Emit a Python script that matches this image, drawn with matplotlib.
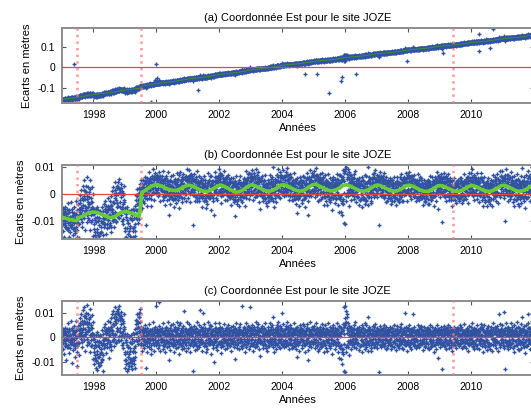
import numpy as np
import matplotlib.pyplot as plt

plt.rcParams['font.family'] = ['Liberation Sans', 'DejaVu Sans']
plt.rcParams['font.size'] = 8

# ------------------------------------------------------------------
# Data
# ------------------------------------------------------------------
start_year = 1997

# residuals of panel (c), units of 0.1 mm, one row per year, spread evenly
# over the year (wide scatter)
resid_01mm = [
    [-12, 35, -48, 8, -70, 22, 41, -25, -5, -92, 15, -38, 3, 58, -31, -64, 27, -9,
     -44, 12, 66, -18, -105, 30, 19, -52, -3, 47, -27, -80, -36, 25, 70, -60, 4, -118,
     48, -22, 10, -75, 33, 82, 61, -8, 95, 24, -40, 112, 37, 128, 4, 70, -55, 88,
     102, 15, 54, -30, 135, 44, -18, 76, 31, 118, -62, 9, 50, -35, 92, 12, -88, 65],
    [-45, -110, 8, -72, -20, -128, -96, 22, -58, -135, -30, -80, -120, -15, -70, 10, -102, -48,
     -62, 30, -90, -25, -138, -5, -30, 42, -8, 55, -66, 18, 25, -40, 68, -12, 36, -84,
     10, 62, -28, 80, -52, 44, 95, 28, -15, 110, 52, -35, 66, 125, 8, 84, -22, 102,
     40, 118, 74, -10, 92, 130, 88, 22, 105, 56, -30, 78, 12, 70, -45, 96, 35, -60],
    [-70, -125, -18, -92, 15, -140, -105, -40, -132, -68, 5, -88, -55, -118, -22, -96, -130, -8,
     -84, 20, -110, -45, -128, -62, 35, -10, 72, 18, 95, -28, 60, 102, 25, 84, 40, 118,
     -32, 45, -8, 20, -58, 12, 38, -45, 5, -20, 52, -125, -15, 28, -62, 40, -5, 15,
     22, -38, 55, -12, 30, -70, -48, 10, 35, -25, 62, -8, 18, -55, 0, 44, -30, 25],
    [130, -20, 35, -42, 8, 145, -30, 48, 12, -58, 25, -8, 40, -15, -48, 20, 58, -35,
     -10, 32, -62, 5, 45, -25, 28, -40, 15, 62, -18, -95, -52, 10, 38, -22, 50, 0,
     15, -35, 55, -10, -60, 30, -28, 42, 8, -45, 20, 65, 35, -12, -38, 52, -68, 12,
     -5, 60, 25, -30, 40, -50, 48, -22, 110, 5, -42, 28, -18, 35, -55, 20, 62, -8],
    [22, -45, 10, 55, -28, 38, -60, 18, 42, -12, 30, -35, -140, 25, -20, 48, -5, -52,
     35, -30, 62, 8, -48, 20, -15, 50, -40, 28, 112, -22, 45, -8, 25, -58, 15, 100,
     -35, 20, 55, -25, 40, -62, 10, -48, 30, 65, -18, 5, -28, 38, -10, 52, -70, 22,
     48, -20, 15, -42, 30, -5, -100, 25, 58, -15, 40, -38, 12, -52, 35, 20, -28, 60],
    [30, -18, 45, -40, 8, -65, -22, 40, 12, -35, 55, 2, 18, -48, 28, -10, 38, -30,
     -42, 15, 50, -25, 5, 35, 25, -8, -55, 42, -20, 10, -12, 48, 20, -38, 30, -90,
     40, -28, 5, 58, -45, 22, -5, 32, -50, 15, 45, -20, 55, -15, 28, -42, 10, 130,
     -30, 20, 42, -8, -60, 35, 10, -38, 60, 25, -18, 48, -25, 45, 5, -48, 32, 125],
    [38, -10, 52, -32, 20, -55, -28, 45, 8, -40, 30, 62, 15, -35, 42, -18, 55, -5,
     -50, 22, 35, -12, -78, 28, 30, -25, 48, 5, -42, 18, -8, 40, -30, 58, 12, -45,
     25, -55, 18, 42, -20, 8, -35, 30, 60, -15, 45, -28, 50, -5, -40, 22, 85, -62,
     -18, 35, 10, -48, 28, 52, 42, -30, 20, 65, -12, -38, -45, 15, 48, -22, 38, 5],
    [100, 25, -30, 55, 8, -40, 35, -15, 48, -35, 20, 62, -20, 42, 5, -50, 30, -8,
     52, -28, 18, 40, -45, 12, -38, 22, -12, 58, -25, 35, 15, -48, 38, -5, 45, -82,
     -30, 28, -55, 10, 50, -18, 40, -8, 22, -42, 15, 55, -15, 48, -32, 25, -60, 8,
     30, -22, 55, -10, 38, -95, -52, 12, 35, -28, 62, 20, 18, -40, 8, 45, -18, 32],
    [48, -20, 30, -45, 15, 58, -10, 38, -35, 22, -58, 5, 32, -50, 12, 45, -22, 28,
     -40, 18, 55, -15, 35, -62, 22, -30, 8, 50, -45, 15, -55, 35, -12, 28, 60, -25,
     10, -42, 45, -8, 25, -70, 38, 5, -28, 52, -15, 20, -48, 25, 40, -32, 10, 58,
     15, -60, 30, -20, 48, -85, -35, 42, -90, 18, -50, 28, -110, 55, -70, 125, -138, 80],
    [132, -145, 110, -60, 95, 40, 60, -38, 25, -75, 48, 12, -25, 42, -50, 18, 30, -12,
     35, -18, 52, -40, 8, 62, -45, 20, -8, 38, -28, 15, 28, -52, 45, 5, -35, 22,
     -12, 35, -60, 50, 12, -30, 40, -25, 18, -48, 58, 2, -38, 52, -15, 28, -55, 85,
     20, -30, 42, -10, 35, -45, -58, 15, 30, -22, 48, -8, 45, -40, 10, 55, -18, 25],
    [-20, 38, -45, 12, 30, -8, -145, 25, -30, 48, 5, -38, 32, -12, 40, -28, 15, 52,
     -35, 20, -5, 42, -50, 10, 18, -42, 35, -15, 28, -22, -8, 45, -30, 22, -48, 38,
     40, -18, 12, -38, 50, 5, -25, 30, -52, 15, 35, -10, 48, -35, 20, -5, -42, 28,
     -15, 42, -28, 55, 8, -45, 25, -50, 38, -12, 20, 100, -30, 15, 45, -22, 32, -55],
    [38, -28, 15, 50, -40, 10, -12, 35, -48, 22, 5, 95, 28, -20, 42, -35, 18, -8,
     -45, 12, 30, -15, 52, -30, 20, -38, 8, 45, -22, 35, -28, 48, -10, 25, -52, 15,
     42, -5, -40, 30, 12, -25, -18, 38, 22, -45, 40, 5, 30, -50, 15, 52, -12, -35,
     -40, 18, 45, -20, 28, -60, 12, -32, 38, 8, -48, 25, -22, 50, -8, 35, -85, 15],
    [28, -40, 18, -12, 42, -28, -130, 20, 35, -22, 10, 48, -35, 15, -8, 40, -50, 22,
     38, -25, 52, -10, 28, -42, -15, 42, -38, 12, -58, 30, 22, -30, 8, 45, -20, 15,
     -5, 35, -42, 20, 38, -12, 40, -22, 15, -35, 5, 50, -28, 10, 45, -18, 30, -45,
     18, -38, 28, 55, -8, -25, -42, 25, -12, 38, 15, -55, 30, -8, 48, -30, 22, 5],
    [45, -25, 12, 60, -38, 20, -18, 40, -50, 28, 8, -30, 35, -12, 52, -42, 18, 5,
     -48, 22, -5, 38, -28, 55, 12, -35, 42, -15, 30, -60, -22, 50, 5, -40, 25, 10,
     38, -10, -52, 18, 48, -28, -35, 28, 15, -48, 5, 42, 20, -55, 35, -8, 58, -18,
     -12, 45, -30, 22, -42, 12, 48, -20, 30, -58, 15, 95, -40, 10, 55, -25, 35, -5],
    [52, -30, 18, 105, -45, 25, -130, 40, -15, 60, -35, 8, 28, -50, 45, -10, 32, -22,
     -38, 15, 58, -28, 5, 42, 20, -45, 10, 50, -60, 30, -15, 38, -32, 62, 12, -48,
     45, -8, 25, -52, 35, -20, -42, 55, -18, 30, 85, 2, 35, -25, 48, -40, 18, -65,
     -10, 50, -35, 22, 95, -28, 58, -15, 40, -50, 10, 30, -28, 42, 5, 68, -38, 20],
]

# residuals of panel (c), core of the cloud, 0.1 mm, one row per year
resid_core_01mm = [
    [5, -22, 30, -8, 18, -35, -15, 26, -30, 10, -5, 33,
     22, -12, -40, 6, 35, -20, 12, -28, 3, 40, -18, -6,
     -30, 15, 28, -10, 8, -45, 26, -4, -22, 38, -35, 10,
     -18, 30, 5, -25, 20, 52, 10, 35, 68, -20, 30, 5,
     55, -10, 90, 15, 35, 60, 80, 22, -5, 65, 25, 98,
     30, 58, -25, 85, 10, 40, -12, 20, 38, -30, 15, -8],
    [-60, -5, -85, -30, 10, -95, -35, -70, -15, -105, 8, -20,
     -80, -40, -115, 5, -65, -25, -30, -92, -10, 15, -75, -45,
     -12, 25, -30, 15, -5, 35, 18, -25, 40, -10, 28, -38,
     -20, 32, 8, -35, 45, 20, 30, -10, 55, 12, 85, -5,
     95, 15, 75, -20, 60, 110, 25, 30, 100, -15, 5, 80,
     40, 72, -10, 90, 20, 5, 28, 60, -25, 45, 0, 15],
    [-95, -10, -110, -30, 5, -60, -80, -40, -120, 0, -20, -100,
     -45, -90, 10, -25, -105, -55, -60, -15, -95, 15, -80, -35,
     20, 55, -15, 40, 70, 0, 45, 85, -10, 65, 100, 20,
     10, -25, 30, -8, 18, -30, -15, 25, -5, 35, -28, 12,
     22, -18, 8, -35, 28, -2, -25, 15, 32, -12, 5, -30,
     15, -8, 28, -22, 10, 35, -30, 20, -12, 25, 5, -18],
    [18, -25, 5, 30, -12, 22, -30, 10, 35, -18, 2, -8,
     25, -5, -32, 15, 28, -20, 8, -28, 20, 38, -10, 12,
     -15, 30, -22, 5, -35, 18, 32, -8, 15, -25, 10, 28,
     -28, 12, -5, 35, -18, 25, 5, -32, 22, -10, 30, -20,
     12, 38, -15, -28, 8, 20, -22, 5, 32, -12, 18, -35,
     28, -18, 10, -5, 35, -25, -10, 22, -30, 15, 2, 30],
    [-20, 15, 32, -8, 25, -30, 10, -22, 5, 35, -15, 20,
     30, -12, -28, 18, 2, 38, -25, 22, 10, -35, 28, -5,
     15, -32, 25, 8, -18, 35, -10, 28, -25, 12, 40, -20,
     22, 5, -30, 30, -12, 15, -35, 18, 8, -22, 32, -2,
     -8, 35, 20, -28, 12, -15, 30, -20, 5, 25, -32, 10,
     -25, 10, 38, -15, 22, -5, 18, -30, 28, 2, -18, 35],
    [10, -28, 22, 35, -15, 5, -32, 18, -8, 28, -20, 12,
     -12, 30, -25, 8, 38, -18, 25, -5, 15, -30, 20, -35,
     32, -10, 5, -22, 28, 12, -28, 22, -15, 35, -2, 18,
     -18, 8, 30, -12, 20, -32, 15, -25, 35, 10, -8, 28,
     25, -35, -5, 18, -20, 32, 8, 38, -28, 12, 22, -15,
     -30, 20, 12, -8, 35, -22, 28, -12, 5, -35, 18, 30],
    [-22, 12, 30, -5, 20, -30, 35, -18, 8, 25, -12, -28,
     15, -35, 22, 10, -20, 32, -8, 28, -25, 5, 38, -15,
     30, 5, -22, 18, -32, 12, -15, 35, 20, -28, 10, 25,
     -10, 22, -35, 30, 8, -18, 28, -5, 15, -25, 32, -12,
     18, -28, 12, 35, -15, 2, -32, 20, -8, 30, -22, 10,
     22, -12, 35, -25, 5, 18, -20, 32, 12, -5, -30, 28],
    [25, -15, 8, 32, -28, 18, -10, 30, -22, 5, 38, -18,
     -32, 20, 12, -8, 28, -25, 35, -12, 2, 22, -30, 15,
     10, 35, -20, 25, -5, -35, 18, -28, 30, 8, -15, 22,
     -25, 12, 28, -18, 35, 5, -8, 20, -32, 15, 30, -12,
     32, -22, 5, 18, -30, 25, 15, -10, 38, -25, 8, -2,
     -18, 28, -35, 10, 22, -15, 30, 5, -20, 35, -28, 12],
    [-5, 30, -25, 15, 35, -12, 22, -30, 8, 28, -18, 2,
     18, -8, 32, -28, 12, 25, -35, 10, -15, 38, 20, -22,
     -28, 22, 5, 35, -12, 18, 30, -20, 15, -5, -32, 28,
     12, -35, 25, 8, -22, 32, -10, 18, 38, -28, 5, 22,
     -20, 10, -30, 28, 15, -8, 35, -25, 12, 20, -35, 5,
     -45, 18, 40, -30, 25, -60, 30, -50, 15, 45, -28, 60],
    [50, -40, 65, 20, -30, 85, -15, 30, -25, 8, 38, -12,
     28, -20, 12, -32, 22, 5, -8, 35, -28, 18, 2, -18,
     32, -10, -25, 20, 10, 35, -22, 15, 28, -35, 8, 25,
     -30, 5, 22, -12, 38, -20, 18, -28, 10, 30, -5, -32,
     25, 12, -18, 35, -25, 8, 2, 28, -15, 20, -30, 12,
     -12, 32, -22, 18, 5, -28, 30, -8, 25, -35, 15, 10],
    [15, -28, 28, -5, -18, 32, 22, -12, 8, -30, 35, 18,
     -20, 30, -10, 12, -35, 25, 5, -25, 32, 18, -8, -15,
     28, 8, -30, 22, 12, -20, -12, 35, 2, -28, 20, 10,
     -35, 18, 28, -15, 5, 25, 30, -22, -8, 12, -30, 35,
     8, 22, -15, -32, 28, 2, -25, 12, 35, -18, 20, -10,
     20, -5, -28, 32, -15, 15, 12, -32, 25, 5, -20, 30],
    [-12, 25, -30, 8, 32, -18, 18, -25, 12, 35, -8, -28,
     30, 2, -20, 25, -32, 15, -5, 28, -15, -35, 20, 10,
     22, -30, 35, -10, 12, -22, 15, 30, -28, 5, -18, 25,
     -25, 12, 20, -35, 28, -5, -18, 32, 8, 15, -28, 22,
     35, -15, -8, 25, -22, 10, 20, -32, 28, -12, 5, 30,
     -30, 8, 18, -20, 32, -10, -5, 22, -28, 12, 35, -18],
    [20, -8, -25, 32, 10, -30, 25, -18, 5, 28, -35, 15,
     -15, 35, 22, -10, -28, 8, -22, 12, 30, -32, 18, 2,
     28, -12, 8, -25, 35, -18, 10, -30, 22, 15, -5, 25,
     -32, 20, -15, 28, 2, -22, 18, 32, -28, 8, -12, 30,
     5, -25, 35, -8, 20, -15, -20, 28, 12, -35, 25, 8,
     15, 30, -18, 5, -28, 22, 32, -10, 8, -22, 28, -2],
    [-28, 15, 30, -12, 22, -35, 8, -20, 35, 12, -28, 20,
     25, -5, -30, 18, 10, 32, -15, 28, -22, 5, 38, -12,
     -8, 35, 12, -25, 30, -15, 22, -32, 5, 18, -10, 28,
     30, -18, 25, 8, -35, 15, -22, 10, 32, -28, 18, -5,
     12, 25, -30, 35, -12, 20, 28, -8, -25, 15, 38, -20,
     -15, 30, 8, -22, 25, 12, -32, 18, 35, -10, 5, 22],
    [32, -20, 10, 25, -35, 15, -12, 30, -25, 8, 38, -18,
     18, -30, 28, 5, -15, 35, -28, 12, 22, -8, 30, -22,
     -10, 25, -35, 18, 8, 32, 28, -15, 12, -30, 20, 5,
     -22, 38, 15, -12, 28, -28, 10, 20, -18, 35, -5, 25,
     -30, 12, 32, -20, 18, 8, 25, -35, 5, 28, -12, 40,
     15, -8, 35, -25, 22, 10, -18, 30, 12, -32, 42, -10],
]

# fitted model of panel (b), units of 0.1 mm, monthly
model_b_01mm = [
    [-86, -89, -92, -94, -96, -97, -86, -82, -77, -72, -68, -66],
    [-66, -68, -72, -76, -80, -84, -86, -85, -80, -74, -68, -65],
    [-64, -66, -70, -74, -77, -80, 6, 12, 18, 25, 30, 34],
    [34, 31, 26, 22, 18, 15, 13, 13, 16, 21, 26, 31],
    [32, 30, 26, 21, 16, 12, 10, 10, 13, 18, 24, 30],
    [33, 30, 25, 20, 15, 10, 7, 8, 12, 18, 25, 31],
    [34, 31, 27, 22, 17, 13, 11, 11, 14, 19, 26, 32],
    [34, 32, 27, 22, 17, 13, 11, 11, 14, 20, 27, 33],
    [36, 33, 28, 23, 18, 14, 12, 12, 15, 20, 26, 32],
    [34, 31, 27, 22, 17, 13, 11, 11, 14, 19, 25, 31],
    [33, 31, 26, 21, 17, 13, 11, 11, 14, 19, 25, 31],
    [32, 30, 26, 21, 16, 12, 10, 10, 13, 18, 24, 30],
    [31, 29, 25, 20, 16, 12, 10, 10, 13, 18, 24, 29],
    [31, 29, 25, 20, 15, 12, 10, 10, 13, 18, 24, 30],
    [32, 30, 26, 21, 16, 12, 10, 11, 14, 19, 26, 32],
]

# trend of panel (a) (metres)
trend_years = [1997, 2000, 2004, 2008, 2012]
trend_vals = [-0.145, -0.081, 0.007, 0.081, 0.153]
linfit_vals = [-0.158, -0.088, 0.002, 0.076, 0.148]

# outliers visible only in panel (a)
outlier_years = [1997.38, 1999.81, 1999.97, 2000.02, 2000.0, 1999.83, 2001.33, 2004.74,
                 2005.11, 2005.49, 2005.91, 2005.89, 2005.96, 2006.36, 2007.98,
                 2009.13, 2010.25, 2010.27, 2010.5, 2010.6, 2010.7]
outlier_vals = [0.018, -0.074, -0.061, -0.053, 0.016, -0.168, -0.109, -0.032,
                -0.032, -0.125, -0.045, -0.064, 0.059, -0.032, 0.030,
                0.070, 0.078, 0.159, 0.139, 0.096, 0.187]

# equipment changes (red dotted lines)
event_years = [1997.48, 1999.5, 2009.43]


# ------------------------------------------------------------------
# Build series
# ------------------------------------------------------------------
def spread_over_years(rows, offset):
    t, month_idx, vals = [], [], []
    for yi, row in enumerate(rows):
        n = len(row)
        for k, v in enumerate(row):
            frac = (k + offset) / n
            t.append(start_year + yi + frac)
            month_idx.append(yi * 12 + int(12 * frac))
            vals.append(v / 1e4)
    return np.array(t), np.array(month_idx), np.array(vals)


model_m = np.array(model_b_01mm, dtype=float).ravel() / 1e4
n_years = len(model_b_01mm)
t_month = np.array([start_year + y + (m + 0.5) / 12
                    for y in range(n_years) for m in range(12)])

t1, mi1, r1 = spread_over_years(resid_01mm, 0.25)
t2, mi2, r2 = spread_over_years(resid_core_01mm, 0.75)
t_pts = np.concatenate([t1, t2])
resid = np.concatenate([r1, r2])
detr = np.concatenate([model_m[mi1], model_m[mi2]]) + resid
raw = np.interp(t_pts, trend_years, trend_vals) + detr
model_a = np.interp(t_month, trend_years, trend_vals) + model_m

# ------------------------------------------------------------------
# Plot
# ------------------------------------------------------------------
blue = "#3052a0"
mk = dict(linestyle="none", marker="+", markersize=3.4,
          markeredgewidth=1.0, color=blue, zorder=2)

fig = plt.figure(figsize=(5.31, 4.13), dpi=100)

positions = [
    [0.1168, 0.7506, 0.888, 0.1816],
    [0.1168, 0.4213, 0.888, 0.1792],
    [0.1168, 0.0920, 0.888, 0.1792],
]
titles = ["(a) Coordonnée Est pour le site JOZE",
          "(b) Coordonnée Est pour le site JOZE",
          "(c) Coordonnée Est pour le site JOZE"]
ylims = [(-0.171, 0.19), (-0.0164, 0.0106), (-0.0156, 0.0151)]
yticks = [[-0.1, 0, 0.1], [-0.01, 0, 0.01], [-0.01, 0, 0.01]]
yticklabels = [["-0.1", "0", "0.1"], ["-0.01", "0", "0.01"], ["-0.01", "0", "0.01"]]

for i in range(3):
    ax = fig.add_axes(positions[i])

    if i == 0:
        ax.plot(trend_years, linfit_vals, color="#cc44cc", linewidth=1.5, zorder=1)
        ax.plot(t_pts, raw, **mk)
        ax.plot(outlier_years, outlier_vals, **mk)
        ax.plot(t_month, model_a, color="#3c8f3c", linewidth=0.7, zorder=4)
    elif i == 1:
        ax.plot(t_pts, detr, **mk)
    else:
        ax.plot(t_pts, resid, **mk)

    ax.axhline(0, color="#e04848", linewidth=0.9, zorder=3)
    for ev in event_years:
        ax.axvline(ev, color="#ff7878", linestyle=":", linewidth=1.8, alpha=0.75, zorder=3)

    if i == 1:
        ax.plot(t_month, model_m, color="#66cc33", linewidth=2.6, zorder=5)

    ax.set_xlim(1997.0, 2012.0)
    ax.set_ylim(*ylims[i])
    ax.set_xticks([1998, 2000, 2002, 2004, 2006, 2008, 2010])
    ax.set_yticks(yticks[i])
    ax.set_yticklabels(yticklabels[i])
    ax.tick_params(direction="in", top=True, right=True, length=3,
                   labelsize=7.5, color="#555555", pad=5)
    for sp in ax.spines.values():
        sp.set_color("#8c8c8c")
        sp.set_linewidth(1.4)

    ax.set_title(titles[i], fontsize=8, pad=5)
    ax.set_xlabel("Années", fontsize=8, labelpad=2)
    ax.set_ylabel("Ecarts en mètres", fontsize=8, labelpad=4)

fig.savefig("out.png", dpi=100)
